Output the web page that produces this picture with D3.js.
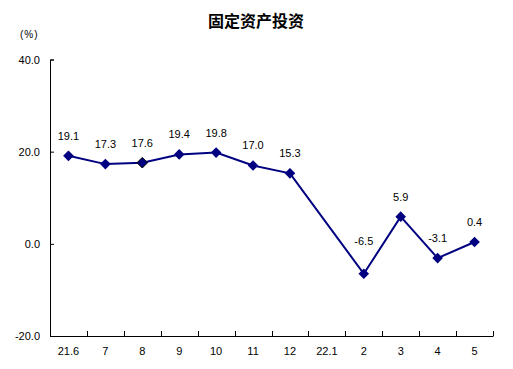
<!DOCTYPE html>
<html><head><meta charset="utf-8">
<script src="https://cdn.jsdelivr.net/npm/d3@7/dist/d3.min.js"></script>
<style>body{margin:0;background:#fff}</style>
</head><body>
<svg id="c" width="513" height="369"></svg>
<script>
const categories = ["21.6","7","8","9","10","11","12","22.1","2","3","4","5"];
const values = [19.1,17.3,17.6,19.4,19.8,17.0,15.3,null,-6.5,5.9,-3.1,0.4];
const yTicks = [40,20,0,-20];
const title = "固定资产投资";
const unit = "(%)";

const svg = d3.select("#c");
const x = d3.scaleBand().domain(categories).range([50,493]);
const y = d3.scaleLinear().domain([-20,40]).range([336,59.5]);
const font = "'Liberation Sans', sans-serif";
const fmt = d3.formatLocale({decimal:".",thousands:",",grouping:[3],currency:["",""],minus:"-"}).format(".1f");

svg.append("text").attr("x",256).attr("y",27).attr("text-anchor","middle")
  .attr("font-family","'Noto Sans CJK SC'").attr("font-weight","bold").attr("font-size",16).text(title);
svg.append("text").attr("x",20).attr("y",38).attr("font-family",font).attr("font-size",10)
  .attr("letter-spacing",1).text(unit);

const yAxis = d3.axisLeft(y).tickValues(yTicks).tickSize(-4).tickPadding(10).tickFormat(fmt);
const gy = svg.append("g").attr("transform","translate(50,0)").call(yAxis);
const xAxis = d3.axisBottom(x).tickSize(0).tickPadding(11);
const gx = svg.append("g").attr("transform",`translate(0,${y(-20)})`).call(xAxis);
[gx,gy].forEach(g=>{
  g.selectAll("text").attr("font-family",font).attr("font-size",11).attr("fill","#000");
  g.select(".domain").attr("stroke","#000").attr("stroke-width",1);
  g.selectAll("line").attr("stroke","#000");
});
const bounds = categories.map(c=>x(c)).concat([x.range()[1]]).slice(1);
svg.append("g").selectAll("line").data(bounds).join("line")
  .attr("x1",d=>Math.round(d)+0.5).attr("x2",d=>Math.round(d)+0.5)
  .attr("y1",y(-20)).attr("y2",y(-20)-5).attr("stroke","#000");

const pts = categories.map((c,i)=>({c,v:values[i]})).filter(d=>d.v!==null);
const line = d3.line().x(d=>x(d.c)+x.bandwidth()/2).y(d=>y(d.v));
svg.append("path").datum(pts).attr("d",line).attr("fill","none").attr("stroke","#000080").attr("stroke-width",2);
svg.append("g").selectAll("path").data(pts).join("path")
  .attr("d",d3.symbol(d3.symbolDiamond2,72))
  .attr("transform",d=>`translate(${x(d.c)+x.bandwidth()/2},${y(d.v)})`)
  .attr("fill","#000080").attr("stroke",d=>d.c==="8"?"#000":"none").attr("stroke-width",1);
svg.append("g").selectAll("text").data(pts).join("text")
  .attr("x",d=>x(d.c)+x.bandwidth()/2).attr("y",d=>y(d.v)-(d.c==="2"?29:16))
  .attr("text-anchor","middle").attr("font-family",font).attr("font-size",11)
  .text(d=>fmt(d.v));
</script>
</body></html>
